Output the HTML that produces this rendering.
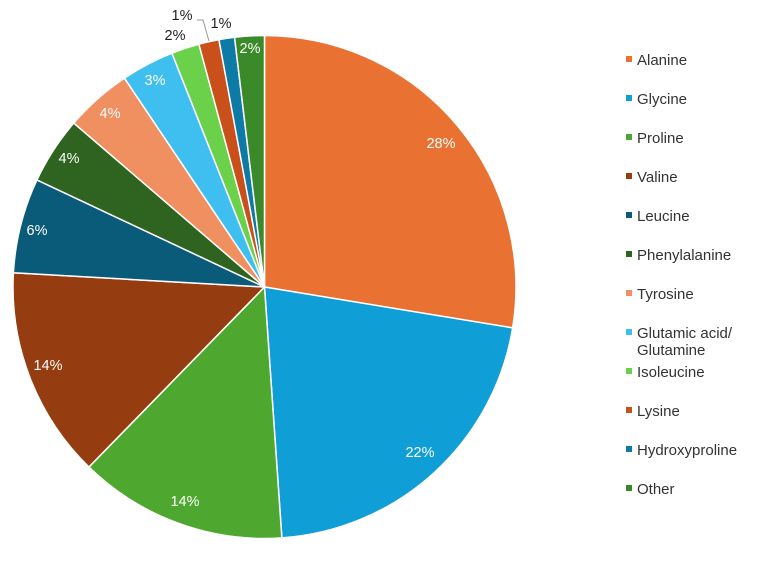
<!DOCTYPE html>
<html><head><meta charset="utf-8"><style>
html,body{margin:0;padding:0;background:#fff;}
body{width:768px;height:576px;overflow:hidden;font-family:"Liberation Sans",Helvetica,Arial,sans-serif;}
svg text{font-family:"Liberation Sans",Helvetica,Arial,sans-serif;}
</style></head><body>
<svg id="s" width="768" height="576" viewBox="0 0 768 576" xmlns="http://www.w3.org/2000/svg">
<g id="pie"></g>
<g font-size="14.5" fill="#fff" text-anchor="middle">
<text x="441" y="148">28%</text>
<text x="420" y="457">22%</text>
<text x="185" y="506">14%</text>
<text x="48" y="370">14%</text>
<text x="37" y="235">6%</text>
<text x="69" y="163">4%</text>
<text x="110" y="118">4%</text>
<text x="155" y="85">3%</text>
<text x="250" y="53">2%</text>
</g>
<g font-size="14.5" fill="#222" text-anchor="middle">
<text x="175" y="40">2%</text>
<text x="182" y="20">1%</text>
<text x="221" y="28">1%</text>
</g>
<polyline points="197,20 203,20 209,41" fill="none" stroke="#999" stroke-width="1"/>
<g font-size="15" fill="#333">
<rect x="626" y="56" width="6" height="6" fill="#E97132"/><text x="637" y="65">Alanine</text>
<rect x="626" y="95" width="6" height="6" fill="#0F9ED5"/><text x="637" y="104">Glycine</text>
<rect x="626" y="134" width="6" height="6" fill="#4EA72E"/><text x="637" y="143">Proline</text>
<rect x="626" y="173" width="6" height="6" fill="#953C11"/><text x="637" y="182">Valine</text>
<rect x="626" y="212" width="6" height="6" fill="#0A5A7A"/><text x="637" y="221">Leucine</text>
<rect x="626" y="251" width="6" height="6" fill="#2E6320"/><text x="637" y="260">Phenylalanine</text>
<rect x="626" y="290" width="6" height="6" fill="#F08F60"/><text x="637" y="299">Tyrosine</text>
<rect x="626" y="329" width="6" height="6" fill="#3FBEF0"/><text x="637" y="338">Glutamic acid/</text><text x="637" y="355">Glutamine</text>
<rect x="626" y="368" width="6" height="6" fill="#6CD14A"/><text x="637" y="377">Isoleucine</text>
<rect x="626" y="407" width="6" height="6" fill="#C9501A"/><text x="637" y="416">Lysine</text>
<rect x="626" y="446" width="6" height="6" fill="#0E7BA6"/><text x="637" y="455">Hydroxyproline</text>
<rect x="626" y="485" width="6" height="6" fill="#3B8A2A"/><text x="637" y="494">Other</text>
</g>
</svg>
<script>
var cum=[0,27.6,48.9,62.3,75.9,82.0,86.3,90.6,94.0,95.8,97.1,98.1,100];
var col=["#E97132","#0F9ED5","#4EA72E","#953C11","#0A5A7A","#2E6320","#F08F60","#3FBEF0","#6CD14A","#C9501A","#0E7BA6","#3B8A2A"];
var cx=264.5,cy=287,r=251.5,g=document.getElementById("pie"),h="";
function pt(p){var a=p/100*2*Math.PI;return [cx+r*Math.sin(a),cy-r*Math.cos(a)];}
for(var i=0;i<12;i++){var a=pt(cum[i]),b=pt(cum[i+1]),l=(cum[i+1]-cum[i])>50?1:0;
h+='<path d="M'+cx+','+cy+'L'+a[0].toFixed(2)+','+a[1].toFixed(2)+'A'+r+','+r+' 0 '+l+' 1 '+b[0].toFixed(2)+','+b[1].toFixed(2)+'Z" fill="'+col[i]+'" stroke="#fff" stroke-width="1.5" stroke-linejoin="round"/>';}
g.innerHTML=h;
</script>
</body></html>
